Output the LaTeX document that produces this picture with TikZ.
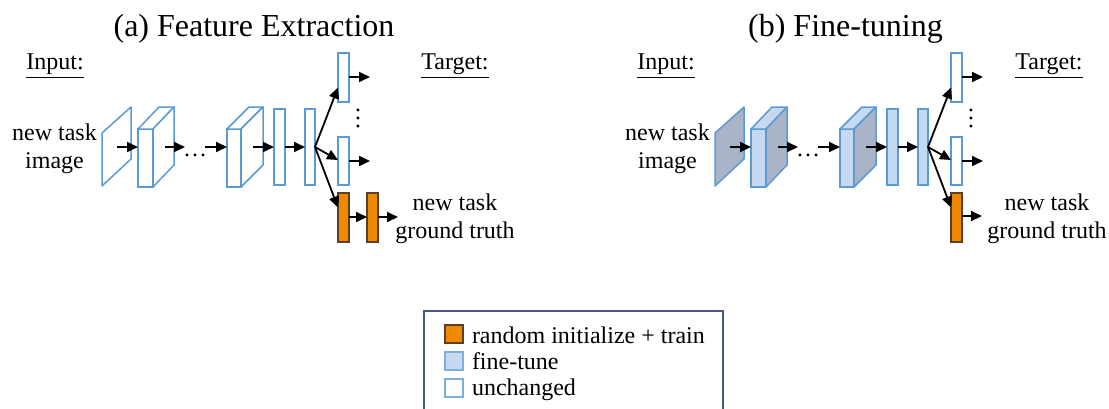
\documentclass[tikz,border=0pt]{standalone}
\usepackage{fontspec}
\setmainfont{Liberation Serif}
\usetikzlibrary{arrows.meta,calc}

\definecolor{edgeblue}{HTML}{5B9BD5}
\definecolor{tunefill}{HTML}{C6D9F1}
\definecolor{shadefill}{HTML}{A9B4C8}
\definecolor{trainfill}{HTML}{EF8A00}
\definecolor{trainedge}{HTML}{5C4026}
\definecolor{legendedge}{HTML}{4A5A85}

% One network: input slab, two conv blocks, two fc bars, branching heads.
% #1 name prefix, #2 slab fill, #3 front/top fill, #4 side fill, #5 bar fill
\newcommand\netpanel[5]{%
  \draw[blueline, fill=#2] (102,133) -- (131,107) -- (131,159) -- (102,186) -- cycle;
  \coordinate (#1-s) at (117,147);
  % first conv block
  \node[bar, fill=#3, minimum width=7.5pt, minimum height=29pt] (#1-c1) at (145.5,158) {};
  \draw[blueline, fill=#3] (#1-c1.north west) -- ++(21,-22) -- ++(15,0) -- (#1-c1.north east) -- cycle;
  \draw[blueline, fill=#4] (#1-c1.north east) -- ++(21,-22) -- ++(0,58) -- (#1-c1.south east) -- cycle;
  \coordinate (#1-c1s) at (165,147);
  \coordinate (#1-d1) at (185,147);
  \node[txt, anchor=base] (#1-dots) at (195,156) {…};
  \coordinate (#1-d2) at (205,147);
  % last conv block
  \node[bar, fill=#3, minimum width=7pt, minimum height=29pt] (#1-c3) at (234,158) {};
  \draw[blueline, fill=#3] (#1-c3.north west) -- ++(22,-22) -- ++(14,0) -- (#1-c3.north east) -- cycle;
  \draw[blueline, fill=#4] (#1-c3.north east) -- ++(22,-22) -- ++(0,58) -- (#1-c3.south east) -- cycle;
  \coordinate (#1-c3s) at (253,147);
  % fully connected bars
  \node[bar, fill=#5, minimum height=38pt] (#1-f1) at (279.5,147) {};
  \node[bar, fill=#5, minimum width=5pt, minimum height=38pt] (#1-f2) at (310,147) {};
  % heads
  \node[bar, fill=white, minimum height=24.5pt] (#1-h1) at (343.5,77.5) {};
  \node[bar, fill=white, minimum height=24pt] (#1-h2) at (343.5,161) {};
  \node[newbar] (#1-h3) at (343.5,217.5) {};
  \node[txt, rotate=90] (#1-vdots) at (358,118) {…};
  \coordinate (#1-o1) at (370,77);
  \coordinate (#1-o2) at (370,161);
  % connectors
  \draw[arr] (#1-s) -- (#1-s -| #1-c1.west);
  \draw[arr] (#1-c1s) -- (#1-d1);
  \draw[arr] (#1-d2) -- (#1-d2 -| #1-c3.west);
  \draw[arr] (#1-c3s) -- (#1-c3s -| #1-f1.west);
  \draw[arr] (#1-f1) -- (#1-f2.west);
  \draw[arr] (#1-f2.east) -- ($(#1-h1.west)+(0,10)$);
  \draw[arr] (#1-f2.east) -- ($(#1-h2.west)+(0,-1)$);
  \draw[arr] (#1-f2.east) -- ($(#1-h3.west)+(0,-10)$);
  \draw[arr] (#1-h1.east |- #1-o1) -- (#1-o1);
  \draw[arr] (#1-h2.east |- #1-o2) -- (#1-o2);
}

\begin{document}
\begin{tikzpicture}[x=0.5pt,y=-0.5pt,
  txt/.style={inner sep=0pt, outer sep=0pt, font=\fontsize{12}{14}\selectfont},
  title/.style={inner sep=0pt, outer sep=0pt, font=\fontsize{16}{19}\selectfont, anchor=base},
  blueline/.style={draw=edgeblue, line width=0.75pt, line join=round},
  bar/.style={draw=edgeblue, line width=0.75pt, inner sep=0pt, outer sep=0pt, minimum width=5.5pt},
  newbar/.style={draw=trainedge, fill=trainfill, line width=0.75pt, inner sep=0pt, outer sep=0pt,
    minimum width=5.5pt, minimum height=24.5pt},
  arr/.style={line width=0.9pt, -{Triangle[length=5.5pt,width=5pt]}},
  key/.style={line width=0.75pt, inner sep=0pt, outer sep=0pt, minimum size=9pt},
]
\clip (0,0) rectangle (1109,408);

% ---------- (a) feature extraction ----------
\node[title] (ta) at (254,36) {(a) Feature Extraction};
\node[txt, anchor=base] (a-in) at (55,69) {\underline{Input:}};
\node[txt, anchor=base] (a-x1) at (54.5,140) {new task};
\node[txt, anchor=base] (a-x2) at (54.5,168) {image};
\node[txt, anchor=base] (a-tg) at (455,69) {\underline{Target:}};
\node[txt, anchor=base] (a-y1) at (455,210) {new task};
\node[txt, anchor=base] (a-y2) at (455,238) {ground truth};
\netpanel{a}{white}{white}{white}{white}
\node[newbar] (a-h4) at (372.5,217.5) {};
\coordinate (a-o3) at (398,217);
\draw[arr] (a-h3.east |- a-o3) -- (a-h4.west |- a-o3);
\draw[arr] (a-h4.east |- a-o3) -- (a-o3);

% ---------- (b) fine-tuning ----------
\node[title] (tb) at (845.5,36) {(b) Fine-tuning};
\node[txt, anchor=base] (b-in) at (666,69) {\underline{Input:}};
\node[txt, anchor=base] (b-x1) at (667.5,140) {new task};
\node[txt, anchor=base] (b-x2) at (667.5,168) {image};
\node[txt, anchor=base] (b-tg) at (1049,69) {\underline{Target:}};
\node[txt, anchor=base] (b-y1) at (1047,210) {new task};
\node[txt, anchor=base] (b-y2) at (1047,238) {ground truth};
\begin{scope}[xshift=306.5pt]
  \netpanel{b}{shadefill}{tunefill}{shadefill}{tunefill}
  \coordinate (b-o3) at (369,216);
  \draw[arr] (b-h3.east |- b-o3) -- (b-o3);
\end{scope}

% ---------- legend ----------
\draw[legendedge, line width=0.8pt] (424,311) rectangle (723,430);
\node[key, draw=trainedge, fill=trainfill] (k1) at (454,334) {};
\node[key, draw=edgeblue!80, fill=tunefill] (k2) at (454,361) {};
\node[key, draw=edgeblue!80, fill=white] (k3) at (454,388) {};
\node[txt, anchor=base west] (l1) at (472,343) {random initialize + train};
\node[txt, anchor=base west] (l2) at (472,369) {fine-tune};
\node[txt, anchor=base west] (l3) at (472,395) {unchanged};
\end{tikzpicture}
\end{document}
